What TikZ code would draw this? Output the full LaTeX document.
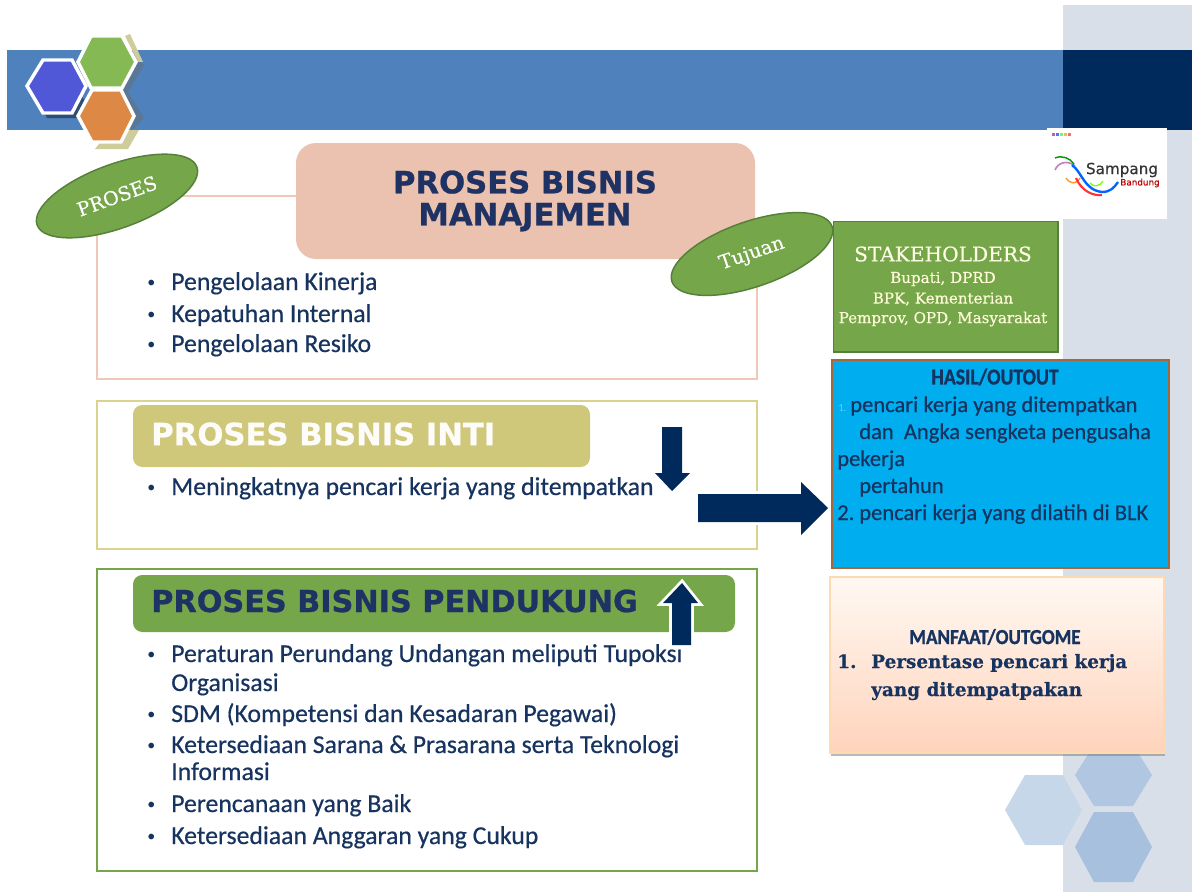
\documentclass[tikz,border=0pt]{standalone}
\usepackage{fontspec}
\setmainfont{Carlito}
\newfontfamily\carlbold[FakeBold=0.5]{Carlito}
\newfontfamily\wideserif[FakeBold=0.25]{DejaVu Serif}
\newfontfamily\widesans[FakeBold=0.8]{DejaVu Sans Bold}
\newfontfamily\heavyserif[FakeBold=0.4]{DejaVu Serif Bold}
\newfontfamily\heavycond[FakeBold=1.2]{Carlito Bold}
\newfontfamily\logofont[FakeBold=0.5]{DejaVu Sans}
\usetikzlibrary{shapes.geometric,shadows,calc}
\definecolor{barblue}{HTML}{4F81BD}
\definecolor{navy}{HTML}{002A5C}
\definecolor{panel}{HTML}{D8DFE8}
\definecolor{leaf}{HTML}{76A64A}
\definecolor{leafdark}{HTML}{55803A}
\definecolor{rosefill}{HTML}{EBC1B0}
\definecolor{roseline}{HTML}{F0C8B8}
\definecolor{khaki}{HTML}{CFC77A}
\definecolor{khakiline}{HTML}{D9D38E}
\definecolor{titlenavy}{HTML}{1F3264}
\definecolor{textnavy}{HTML}{17335F}
\definecolor{cyanbox}{HTML}{00ADEF}
\definecolor{copper}{HTML}{A5683C}
\definecolor{hexblue}{HTML}{5058D8}
\definecolor{hexgreen}{HTML}{84B954}
\definecolor{hexorange}{HTML}{DD8844}
\tikzset{
  frameline/.style={draw=#1,line width=1.3pt},
  hexa/.style={fill=#1,draw=white,line width=2.6pt,line join=miter},
  blockarrow/.style={draw=white,line width=4.2pt,line join=miter,
    drop shadow={shadow xshift=1pt,shadow yshift=-1.5pt,fill=black!30,opacity=.45},
    postaction={fill=navy,draw=none}},
  lens/.style={ellipse,fill=leaf,draw=leafdark,line width=1.1pt,inner sep=0pt,text=white,
    font=\wideserif\fontsize{14.4}{15}\selectfont},
  bultext/.style={anchor=base west,text=textnavy,inner sep=0pt,font=\carlbold\fontsize{19.3}{20}\selectfont},
  bulmark/.style={anchor=base west,text=textnavy,inner sep=0pt,font=\fontsize{12}{13}\selectfont},
  headtext/.style={anchor=center,inner sep=0pt,font=\widesans\fontsize{23}{24}\selectfont},
  outtext/.style={anchor=base west,inner sep=0pt,text=textnavy,font=\carlbold\fontsize{16.9}{18}\selectfont},
  lightser/.style={text=white!85!yellow,inner sep=0pt,font=\wideserif\fontsize{11.3}{15}\selectfont},
  manfaatser/.style={anchor=base west,inner sep=0pt,text=textnavy,font=\heavyserif\fontsize{13.8}{15}\selectfont}
}
\begin{document}
\begin{tikzpicture}[x=0.75pt,y=-0.75pt]
\useasboundingbox (0,0) rectangle (1192,892);
% panels
\fill[panel] (1063,5) rectangle (1192,892);
\fill[barblue] (7,50) rectangle (1063,130);
\fill[navy] (1063,50) rectangle (1192,130);
% pale hexagons
\fill[barblue!45] (1075,775) -- (1094,745) -- (1133,745) -- (1152,775) -- (1133,806) -- (1094,806) -- cycle;
\fill[barblue!32] (1005,810) -- (1025,775) -- (1063,775) -- (1082,810) -- (1063,845) -- (1025,845) -- cycle;
\fill[barblue!50] (1075,847) -- (1094,812) -- (1133,812) -- (1152,847) -- (1133,882) -- (1094,882) -- cycle;
% top-left hexagons: shadows
\fill[black!40!barblue] (32,89) -- (47,118) -- (92,118) -- (92,113) -- (78,90) -- cycle;
\fill[black!35!barblue!80] (125,50) -- (144,65) -- (128,92) -- (144,118) -- (132,130) -- (90,100) -- cycle;
\fill[black!12!white!75!olive] (95,149) -- (128,149) -- (139,130) -- (110,130) -- cycle;
\fill[black!12!white!75!olive] (125,36) -- (130,34) -- (143,62) -- (138,62) -- cycle;
\draw[hexa=hexblue] (27,86) -- (43,60) -- (72,60) -- (86,86) -- (72,113) -- (43,113) -- cycle;
\draw[hexa=hexgreen] (78,62) -- (91,36) -- (122,36) -- (136,62) -- (122,88) -- (91,88) -- cycle;
\draw[hexa=hexorange] (78,116) -- (92,90) -- (121,90) -- (134,116) -- (121,142) -- (92,142) -- cycle;
% logo
\fill[white] (1047,128) rectangle (1167,219);
\foreach \c/\xx in {violet/1052,blue/1056,green/1060,orange/1064,red/1068}{\fill[\c!60] (\xx,133) rectangle +(3,3);}
\draw[violet!50,line width=1.2pt] (1055,170) .. controls (1058,162) and (1068,160) .. (1075,166);
\draw[green!60!black,line width=1.1pt] (1055,158) .. controls (1062,155) and (1070,158) .. (1074,164);
\draw[orange!80,line width=1.1pt] (1066,178) .. controls (1070,184) and (1076,185) .. (1080,178);
\draw[red!80,line width=1.6pt] (1076,178) .. controls (1082,192) and (1094,196) .. (1102,195);
\draw[blue!60!cyan,line width=1.8pt] (1072,165) .. controls (1082,172) and (1084,190) .. (1102,192) .. controls (1110,192) and (1114,188) .. (1118,182);
\draw[green!50!yellow,line width=1pt] (1090,183) .. controls (1094,188) and (1100,186) .. (1103,181);
\node[inner sep=0pt,text=black!80,font=\logofont\fontsize{11.4}{12}\selectfont] (logotext) at (1122,170) {Sampang};
\node[inner sep=0pt,text=red!75!black,font=\logofont\fontsize{6.6}{7}\selectfont] (logosub) at (1140,183) {Bandung};
% frames
\draw[frameline=roseline] (296,196) -- (97,196) -- (97,379) -- (757,379) -- (757,259);
\draw[frameline=khakiline] (97,401) rectangle (757,549);
\draw[frameline=leaf] (97,569) rectangle (757,871);
% header boxes
\fill[rosefill,rounded corners=15pt] (296,143) rectangle (755,259);
\node[headtext,text=titlenavy,align=center] (t1) at (525,201) {PROSES BISNIS\\MANAJEMEN};
\fill[khaki,rounded corners=7pt] (133,405) rectangle (590,467);
\node[headtext,text=white!95!khaki,anchor=west] (t2) at (151,434) {PROSES BISNIS INTI};
\fill[leaf,rounded corners=7pt] (133,575) rectangle (735,632);
\node[headtext,text=titlenavy,anchor=west,font=\widesans\fontsize{22.7}{24}\selectfont] (t3) at (151,601) {PROSES BISNIS PENDUKUNG};
% ellipses
\node[lens,minimum width=127.5pt,minimum height=48pt,rotate=20] (proses) at (117,196) {PROSES};
\node[lens,minimum width=127pt,minimum height=49pt,rotate=19] (tujuan) at (752,254) {Tujuan};
% bullets
\foreach \yy/\txt/\nm in {290/Pengelolaan Kinerja/a1,322/Kepatuhan Internal/a2,352/Pengelolaan Resiko/a3,
  495/Meningkatnya pencari kerja yang ditempatkan/b1,
  662/Peraturan Perundang Undangan meliputi Tupoksi/c1,
  691/Organisasi/c2,
  722/SDM (Kompetensi dan Kesadaran Pegawai)/c3,
  753/Ketersediaan Sarana \& Prasarana serta Teknologi/c4,
  780/Informasi/c5,
  812/Perencanaan yang Baik/c6,
  844/Ketersediaan Anggaran yang Cukup/c7}{
  \node[bultext] (\nm) at (171,\yy) {\txt};
}
\foreach \yy/\nm in {287/d1,319/d2,349/d3,492/d4,659/d5,719/d6,750/d7,809/d8,841/d9}{
  \node[bulmark] (\nm) at (147,\yy) {•};
}
% arrows
\draw[blockarrow] (662,427) -- (682,427) -- (682,473) -- (690,473) -- (672,491) -- (655,473) -- (662,473) -- cycle;
\draw[blockarrow] (672,645) -- (691,645) -- (691,603) -- (698,603) -- (682,583) -- (663,603) -- (672,603) -- cycle;
\draw[blockarrow] (698,494) -- (801,494) -- (801,482) -- (828,508) -- (801,535) -- (801,522) -- (698,522) -- cycle;
% right boxes
\node[draw=leafdark,fill=leaf,line width=1.3pt,minimum width=168.5pt,minimum height=98pt,inner sep=0pt,anchor=north west] (stake) at (832.5,220.5) {};
\node[inner sep=0pt,text=white!90!yellow,font=\wideserif\fontsize{15.1}{15}\selectfont] (s0) at (943,254) {STAKEHOLDERS};
\node[lightser] (s1) at (943,279) {Bupati, DPRD};
\node[lightser] (s2) at (943,299) {BPK, Kementerian};
\node[lightser] (s3) at (943,319) {Pemprov, OPD, Masyarakat};
\node[draw=copper,fill=cyanbox,line width=1.6pt,minimum width=253pt,minimum height=156pt,inner sep=0pt,anchor=north west] (hasil) at (830.5,358.5) {};
\node[inner sep=0pt,text=textnavy,font=\heavycond\fontsize{17}{18}\selectfont] (h0) at (995,377) {\scalebox{.87}[1]{HASIL/OUTOUT}};
\node[outtext,text=white!40!cyanbox,font=\fontsize{8}{9}\selectfont] (h1n) at (838,411) {1.};
\node[outtext] (h1) at (850,412) {pencari kerja yang ditempatkan};
\node[outtext] (h2) at (859,439) {dan\ \ Angka sengketa pengusaha};
\node[outtext] (h3) at (837,466) {pekerja};
\node[outtext] (h4) at (859,493) {pertahun};
\node[outtext] (h5) at (837,520) {2.};
\node[outtext] (h6) at (859,520) {pencari kerja yang dilatih di BLK};
\shade[top color=orange!5!white,bottom color=orange!20!white!92!red,draw=orange!30!white,line width=1pt,
  drop shadow={shadow xshift=1pt,shadow yshift=-2.5pt,fill=black!50,opacity=.55}] (830,577) rectangle (1164,753);
\node[inner sep=0pt,text=textnavy,font=\heavycond\fontsize{16}{18}\selectfont] (m0) at (995,637) {\scalebox{.89}[1]{MANFAAT/OUTGOME}};
\node[manfaatser] (m1n) at (837,668) {1.};
\node[manfaatser] (m1) at (871,668) {Persentase pencari kerja};
\node[manfaatser] (m2) at (871,696) {yang ditempatpakan};
\end{tikzpicture}
\end{document}
